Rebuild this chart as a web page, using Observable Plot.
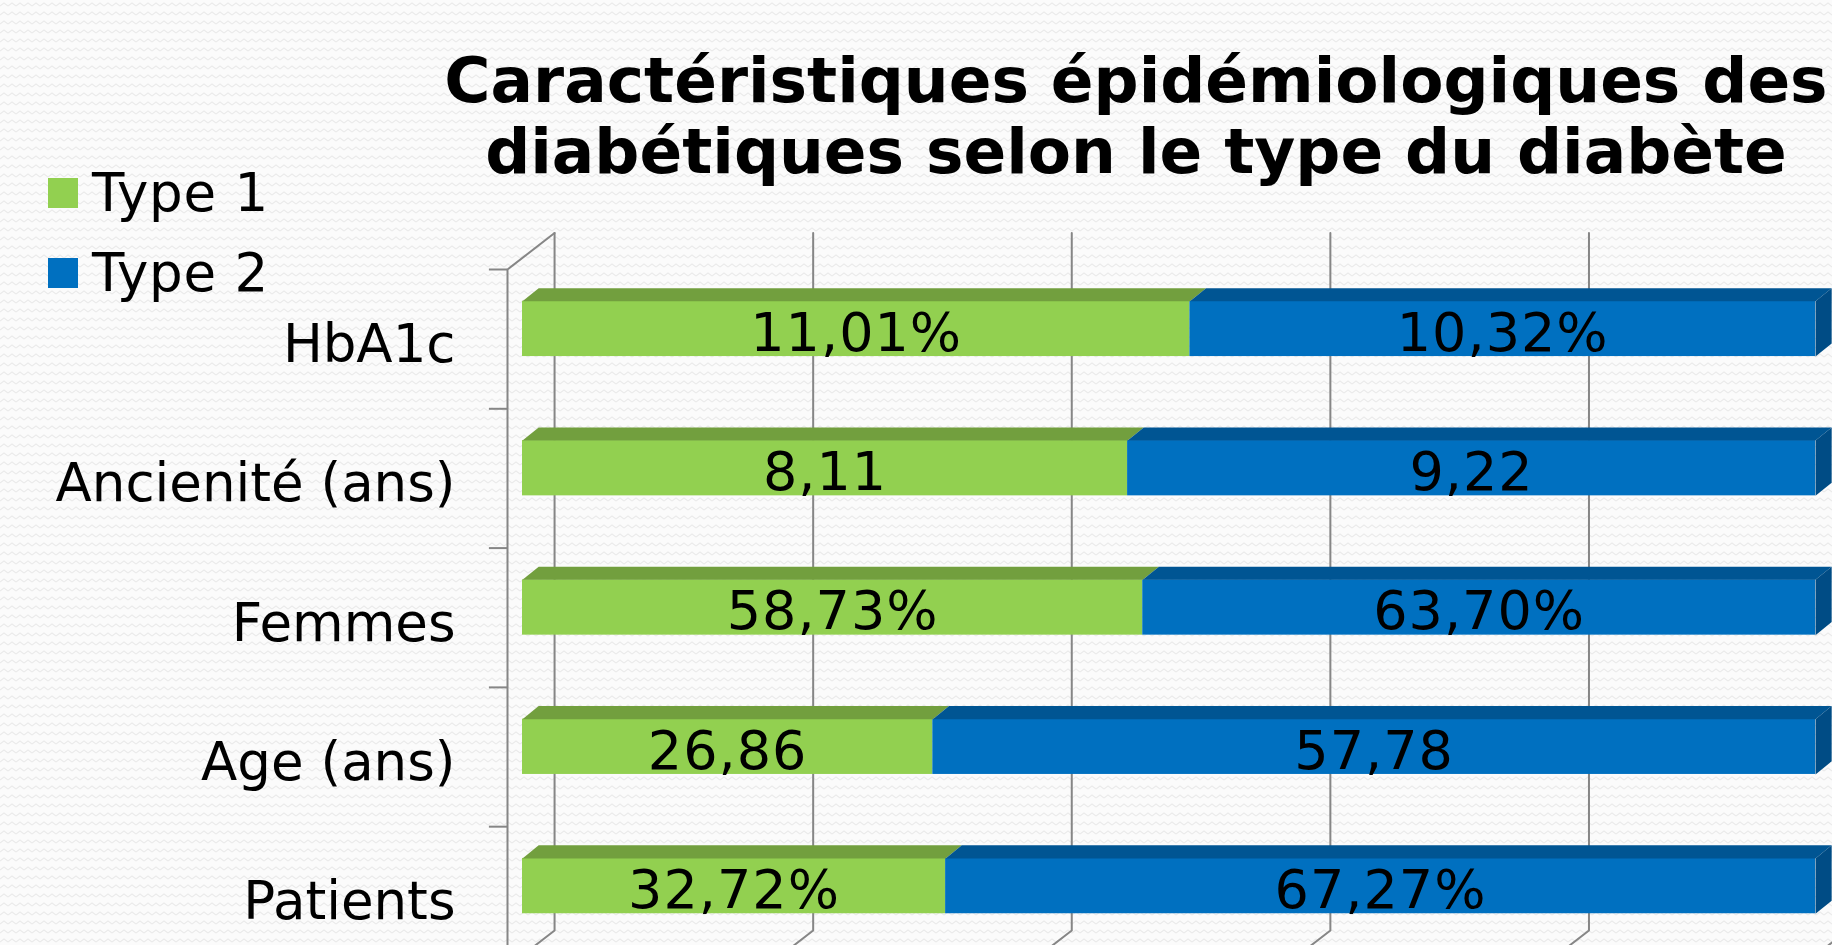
<!DOCTYPE html>
<html>
<head>
<meta charset="utf-8">
<script src="https://cdn.jsdelivr.net/npm/d3@7"></script>
<script src="https://cdn.jsdelivr.net/npm/@observablehq/plot@0.6"></script>
<style>
  html, body { margin: 0; padding: 0; }
  body {
    width: 1832px; height: 945px; position: relative; overflow: hidden;
    background-color: #fbfbfb;
    background-image: url("data:image/svg+xml,%3Csvg xmlns='http://www.w3.org/2000/svg' width='8' height='9'%3E%3Cpath d='M0 6 L4 3 L8 6' stroke='%23ebebeb' stroke-width='1.2' fill='none'/%3E%3C/svg%3E");
    font-family: "DejaVu Sans", Verdana, sans-serif;
  }
  #chart { position: absolute; left: 0; top: 0; }
  #chart text.val { letter-spacing: 1px; }
  #title {
    position: absolute; left: 436px; width: 1400px; top: 45px;
    text-align: center; font-weight: bold; font-size: 63px; line-height: 71px; color: #000;
  }
  .lg-sw { position: absolute; left: 48px; width: 30px; height: 30px; }
  .lg-tx { position: absolute; left: 92px; font-size: 53px; line-height: 80px; color: #000; white-space: nowrap; letter-spacing: 0.8px; }
</style>
</head>
<body>
<div id="chart"></div>
<div id="title">Caractéristiques épidémiologiques des<br>diabétiques selon le type du diabète</div>
<div id="legend"></div>
<script>
// ---- data ----
const categories = ["HbA1c", "Ancienité (ans)", "Femmes", "Age (ans)", "Patients"];
const type1 = [11.01, 8.11, 58.73, 26.86, 32.72];
const type2 = [10.32, 9.22, 63.70, 57.78, 67.27];
const isPercent = [true, false, true, false, true];
const seriesNames = ["Type 1", "Type 2"];
const seriesColors = ["#92D050", "#0070C0"];
const seriesTopColors = ["#729f3e", "#005593"];
const sideColor = "#004c85";
const gridTicks = [0, 0.2, 0.4, 0.6, 0.8, 1];

// ---- geometry (data units of the scales) ----
const AX = -0.0116;     // front edge of left wall
const WX = 0.0248;      // back wall x offset
const WY = -0.262;      // back wall y offset
const FLOOR = 4.745;    // floor back line
const BX = 0.0125, BY = 0.094; // bar depth
const BAR_TOP = 0.228, BAR_BOT = 0.625;

const fmt = (v, pct) => v.toFixed(2).replace(".", ",") + (pct ? "%" : "");

const segs = [];
categories.forEach((c, i) => {
  const total = type1[i] + type2[i];
  const f = type1[i] / total;
  segs.push({i, s: 0, x1: 0, x2: f, label: fmt(type1[i], isPercent[i])});
  segs.push({i, s: 1, x1: f, x2: 1, label: fmt(type2[i], isPercent[i])});
});

const topFaces = [];
segs.forEach((d, k) => {
  const t = d.i + BAR_TOP;
  topFaces.push({k, s: d.s, x: d.x1, y: t});
  topFaces.push({k, s: d.s, x: d.x2, y: t});
  topFaces.push({k, s: d.s, x: d.x2 + BX, y: t - BY});
  topFaces.push({k, s: d.s, x: d.x1 + BX, y: t - BY});
});
const sideFaces = [];
segs.filter(d => d.x2 === 1).forEach(d => {
  const t = d.i + BAR_TOP, b = d.i + BAR_BOT;
  sideFaces.push({i: d.i, x: d.x2, y: t});
  sideFaces.push({i: d.i, x: d.x2 + BX, y: t - BY});
  sideFaces.push({i: d.i, x: d.x2 + BX, y: b - BY});
  sideFaces.push({i: d.i, x: d.x2, y: b});
});

const grid = [];
gridTicks.forEach(g => {
  grid.push({g, x: WX + g, y: WY});
  grid.push({g, x: WX + g, y: FLOOR});
  grid.push({g, x: AX + g, y: FLOOR - WY});
});
const axisLine = [
  {x: WX, y: WY}, {x: AX, y: 0}, {x: AX, y: 5.2}
];
const axisTicks = [0, 1, 2, 3, 4, 5];

const plot = Plot.plot({
  width: 1832,
  height: 945,
  marginLeft: 522,
  marginRight: 17,
  marginTop: 269,
  marginBottom: 0,
  style: {background: "transparent", fontFamily: "DejaVu Sans, Verdana, sans-serif", fontSize: "52px", overflow: "visible"},
  x: {domain: [0, 1], axis: null},
  y: {domain: [0, 4.853], reverse: true, axis: null},
  marks: [
    Plot.line(grid, {x: "x", y: "y", z: "g", stroke: "#868686", strokeWidth: 2}),
    Plot.line(axisLine, {x: "x", y: "y", stroke: "#868686", strokeWidth: 2}),
    Plot.ruleY(axisTicks, {y: d => d, x1: AX - 0.014, x2: AX, stroke: "#868686", strokeWidth: 2}),
    Plot.rect(segs, {x1: "x1", x2: "x2", y1: d => d.i + BAR_TOP, y2: d => d.i + BAR_BOT, fill: d => seriesColors[d.s], inset: 0}),
    Plot.line(topFaces.filter(d => d.s === 0), {x: "x", y: "y", z: "k", curve: "linear-closed", fill: seriesTopColors[0], stroke: "none"}),
    Plot.line(topFaces.filter(d => d.s === 1), {x: "x", y: "y", z: "k", curve: "linear-closed", fill: seriesTopColors[1], stroke: "none"}),
    Plot.line(sideFaces, {x: "x", y: "y", z: "i", curve: "linear-closed", fill: sideColor, stroke: "none"}),
    Plot.text(segs, {x: d => (d.x1 + d.x2) / 2, y: d => d.i + 0.46, text: "label", fontSize: 54, fill: "#000", className: "val"}),
    Plot.text(categories, {x: AX, y: (d, i) => i + 0.542, text: d => d, dx: -52, textAnchor: "end", fontSize: 53, fill: "#000"})
  ]
});
document.getElementById("chart").appendChild(plot);
// apply letter spacing to value labels (second-to-last text group)
const textGroups = plot.querySelectorAll('g[aria-label="text"]');
if (textGroups.length >= 2) textGroups[0].querySelectorAll("text").forEach(t => t.classList.add("val"));

// legend
const legend = document.getElementById("legend");
seriesNames.forEach((name, k) => {
  const sw = document.createElement("div");
  sw.className = "lg-sw";
  sw.style.top = (178 + 80 * k) + "px";
  sw.style.background = seriesColors[k];
  legend.appendChild(sw);
  const tx = document.createElement("div");
  tx.className = "lg-tx";
  tx.style.top = (153 + 80 * k) + "px";
  tx.textContent = name;
  legend.appendChild(tx);
});
</script>
</body>
</html>
